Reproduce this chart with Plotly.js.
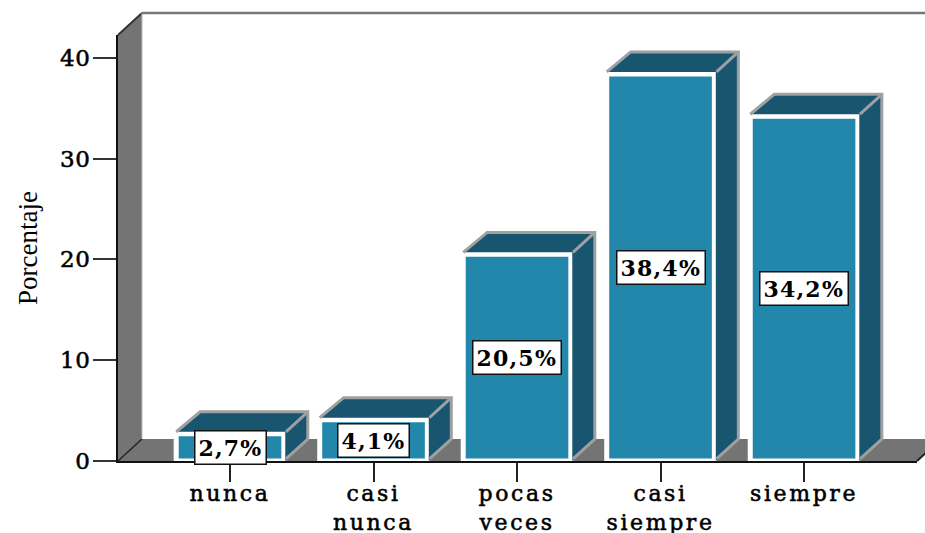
<!DOCTYPE html>
<html><head><meta charset="utf-8">
<script src="https://cdn.plot.ly/plotly-3.0.1.min.js"></script>
<style>
html,body{margin:0;padding:0;background:#fff;overflow:hidden}
.xtick text{letter-spacing:2.6px;stroke:#000;stroke-width:.55px}
.ytick text{stroke:#000;stroke-width:.55px;letter-spacing:.5px}
.annotation-text{letter-spacing:1.2px}
</style></head><body><div id="chart" style="width:925px;height:533px"></div>
<script>
const categories = ["nunca", "casi<br>nunca", "pocas<br>veces", "casi<br>siempre", "siempre"];
const percentages = [2.7, 4.1, 20.5, 38.4, 34.2];
const labels = ["2,7%", "4,1%", "20,5%", "38,4%", "34,2%"];
const yTicks = [0, 10, 20, 30, 40];

const xRange = [-0.7805, 4.787], yRange = [0, 42.26];
const depthX = 0.167, depthY = 2.18, barWidth = 0.75;
const xs = categories.map((_, i) => i);
const FRONT = "#2387AC", DARK = "#18566F", EDGE = "#9EA0A2", WALL = "#747474";

const traces = [{
  type: "bar", x: xs, y: percentages, width: barWidth, showlegend: false, hoverinfo: "skip", cliponaxis: false,
  marker: {color: FRONT, line: {color: "#fff", width: 5}}
}];
percentages.forEach((v, i) => {
  const l = i - barWidth / 2, r = i + barWidth / 2;
  traces.push({
    type: "scatter", mode: "lines", showlegend: false, hoverinfo: "skip", cliponaxis: false, fill: "toself", fillcolor: DARK,
    x: [l + 0.01, l + depthX, r + depthX, r + depthX, r + 0.01, r + 0.01, l + 0.01],
    y: [v + 0.2, v + depthY, v + depthY, depthY, 0, v + 0.2, v + 0.2],
    line: {width: 0}
  });
  traces.push({
    type: "scatter", mode: "lines", showlegend: false, hoverinfo: "skip", cliponaxis: false,
    x: [l, l + depthX, r + depthX, r + depthX, r + 0.015, null, r + 0.015, r + depthX],
    y: [v + 0.2, v + depthY, v + depthY, depthY, 0.2, null, v + 0.2, v + depthY],
    line: {color: EDGE, width: 3}
  });
});

const px = x => (x - xRange[0]) / (xRange[1] - xRange[0]);
const py = y => (y - yRange[0]) / (yRange[1] - yRange[0]);
const poly = pts => "M" + pts.map(p => px(p[0]) + "," + py(p[1])).join("L") + "Z";
const seg = (a, b, color, width) => ({type: "line", layer: "below", xref: "paper", yref: "paper",
  x0: px(a[0]), y0: py(a[1]), x1: px(b[0]), y1: py(b[1]), line: {color, width}});
const shapes = [
  {type: "path", layer: "below", xref: "paper", yref: "paper", fillcolor: WALL, line: {width: 0},
   path: poly([[xRange[0], 0], [xRange[0] + depthX, depthY], [xRange[0] + depthX, yRange[1] + depthY], [xRange[0], yRange[1]]])},
  {type: "path", layer: "below", xref: "paper", yref: "paper", fillcolor: WALL, line: {width: 0},
   path: poly([[xRange[0], 0], [xRange[0] + depthX, depthY], [xRange[1] + depthX, depthY], [xRange[1], 0]])},
  seg([xRange[1], 0], [xRange[1] + depthX, depthY], "#222", 2),
  seg([xRange[0], yRange[1]], [xRange[0] + depthX, yRange[1] + depthY], "#333", 2),
  seg([xRange[0], 0], [xRange[0] + depthX, depthY], "#222", 1.5),
  seg([xRange[0] + depthX, depthY], [xRange[0] + depthX, yRange[1] + depthY], "#b0b0b0", 1),
  seg([xRange[0] + depthX, yRange[1] + depthY], [xRange[1] + depthX, yRange[1] + depthY], "#777", 2.5)
];

const annotations = percentages.map((v, i) => ({
  x: i, y: v / 2, xref: "x", yref: "y", text: "<b>" + labels[i] + "</b>", showarrow: false,
  xanchor: "center", yanchor: "middle", bgcolor: "#fff", bordercolor: "#111", borderwidth: 1.5, borderpad: 3,
  font: {family: "DejaVu Serif", size: 22, color: "#000"}
}));

const layout = {
  width: 925, height: 533, margin: {l: 118, r: 8, t: 35, b: 72}, paper_bgcolor: "#fff", plot_bgcolor: "rgba(0,0,0,0)",
  showlegend: false, shapes, annotations,
  xaxis: {type: "linear", range: xRange, tickvals: xs, ticktext: categories, ticks: "outside", ticklen: 19, tickwidth: 2,
    tickcolor: "#222", showline: true, linecolor: "#111", linewidth: 2, showgrid: false, zeroline: false, layer: "below traces",
    tickfont: {family: "DejaVu Serif", size: 22, color: "#000"}, tickangle: 0, ticklabelstandoff: -7},
  yaxis: {range: yRange, tickvals: yTicks, ticks: "outside", ticklen: 23, tickwidth: 2, tickcolor: "#333",
    showline: true, linecolor: "#111", linewidth: 2, showgrid: false, zeroline: false, layer: "below traces",
    tickfont: {family: "DejaVu Serif", size: 23, color: "#000"}, ticklabelstandoff: -2,
    title: {text: "Porcentaje", standoff: 15, font: {family: "Liberation Serif", size: 27, color: "#000"}}}
};
Plotly.newPlot("chart", traces, layout, {displayModeBar: false, responsive: false});
</script></body></html>
